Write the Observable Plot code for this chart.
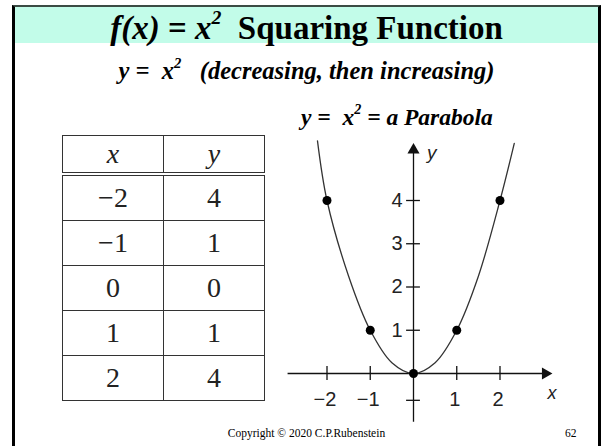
<!DOCTYPE html>
<html>
<head>
<meta charset="utf-8">
<script src="https://cdn.jsdelivr.net/npm/d3@7"></script>
<script src="https://cdn.jsdelivr.net/npm/@observablehq/plot@0.6"></script>
<style>
  html, body { margin: 0; padding: 0; background: #fff; }
  body { width: 602px; height: 446px; overflow: hidden; position: relative; }
  #frame { position: absolute; left: 12px; top: 5px; width: 583px; height: 460px;
           border-left: 3px solid #000; border-right: 3px solid #000; border-top: 2px solid #3b4b44; }
  #header { position: absolute; left: 0; top: 0; width: 583px; height: 36px; background: #c2fce9; }
  .serif { font-family: "Liberation Serif", "Times New Roman", serif; color: #000; }
  #title { position: absolute; left: 15px; width: 583px; top: 8px; text-align: center;
           font-size: 33px; font-weight: bold; white-space: pre; line-height: 40px; }
  #subtitle { position: absolute; left: 15px; width: 583px; top: 56px; text-align: center;
           font-size: 24.5px; font-weight: bold; font-style: italic; white-space: pre; line-height: 30px; }
  #plabel { position: absolute; left: 301px; top: 105px; font-size: 23.5px; font-weight: bold;
            font-style: italic; white-space: pre; line-height: 24px; }
  sup { font-size: 60%; vertical-align: 0; position: relative; top: -0.75em; }
  #tbl { position: absolute; left: 62px; top: 135px; border-collapse: collapse;
         font-family: "Liberation Serif", serif; font-size: 28px; color: #222; }
  #tbl td, #tbl th { border: 1.2px solid #333; width: 100px; text-align: center; padding: 0; font-weight: normal; line-height: 28px; }
  #tbl th { height: 36px; font-style: italic; border-bottom: 4px double #333; }
  #tbl td { height: 44px; }
  #chart { position: absolute; left: 270px; top: 130px; }
  #copy { position: absolute; left: 15px; width: 583px; top: 427px; text-align: center; font-size: 11.5px; }
  #page { position: absolute; left: 565px; top: 427px; font-size: 11.5px; }
</style>
</head>
<body>
<div id="frame"><div id="header"></div></div>
<div id="title" class="serif"><i>f(x) = x<sup>2</sup></i>  Squaring Function</div>
<div id="subtitle" class="serif">y =  x<sup>2</sup>   (decreasing, then increasing)</div>
<div id="plabel" class="serif">y =  x<sup>2</sup> = a Parabola</div>
<table id="tbl"></table>
<div id="chart"></div>
<div id="copy" class="serif">Copyright © 2020 C.P.Rubenstein</div>
<div id="page" class="serif">62</div>
<script>
// Table / plotted points
const xValues = [-2, -1, 0, 1, 2];
const yValues = [4, 1, 0, 1, 4];
const xLabels = ["\u22122", "\u22121", "0", "1", "2"];
const yLabels = ["4", "1", "0", "1", "4"];
const headers = ["x", "y"];

// Parabola curve
const curveX = [-2.22, -2, -1.5, -1, -0.5, 0, 0.5, 1, 1.5, 2, 2.33];
const curveY = [5.38, 4, 2.25, 1, 0.25, 0, 0.25, 1, 2.25, 4, 5.32];

// Axis ticks
const xTickValues = [-2, -1, 1, 2];
const xTickLabels = ["\u22122", "\u22121", "1", "2"];
const yTickValues = [1, 2, 3, 4];
const yTickLabels = ["1", "2", "3", "4"];
const yLowerTick = [-0.62];

// Build table
const tbl = document.getElementById("tbl");
const hr = document.createElement("tr");
headers.forEach(h => { const th = document.createElement("th"); th.textContent = h; hr.appendChild(th); });
tbl.appendChild(hr);
xValues.forEach((_, i) => {
  const tr = document.createElement("tr");
  [xLabels[i], yLabels[i]].forEach(t => { const td = document.createElement("td"); td.textContent = t; tr.appendChild(td); });
  tbl.appendChild(tr);
});

const curve = curveX.map((x, i) => ({x, y: curveY[i]}));
const pts = xValues.map((x, i) => ({x, y: yValues[i]}));
const ink = "#111";
const sans = "Liberation Sans, Arial, sans-serif";

const chart = Plot.plot({
  width: 300, height: 300, margin: 0,
  style: {background: "transparent", overflow: "visible", fontFamily: sans, fontSize: "20px"},
  x: {domain: [-2, 2], range: [56.5, 229.5], axis: null},
  y: {domain: [0, 4], range: [243, 70], axis: null},
  marks: [
    Plot.ruleY([0], {y: d => d, x1: -2.9, x2: 3.0, stroke: ink, strokeWidth: 1.3}),
    Plot.ruleX([0], {x: d => d, y1: -1.13, y2: 5.15, stroke: ink, strokeWidth: 1.3}),
    Plot.dot([0], {x: 3.05, y: 0, symbol: "triangle", rotate: 90, r: 4.5, fill: ink, stroke: "none"}),
    Plot.dot([0], {x: 0, y: 5.17, symbol: "triangle", r: 4.5, fill: ink, stroke: "none"}),
    Plot.ruleX(xTickValues, {x: d => d, y1: -0.16, y2: 0.16, stroke: ink, strokeWidth: 1.3}),
    Plot.ruleY(yTickValues.concat(yLowerTick), {y: d => d, x1: -0.16, x2: 0.16, stroke: ink, strokeWidth: 1.3}),
    Plot.line(curve, {x: "x", y: "y", curve: "catmull-rom", stroke: "#333", strokeWidth: 1.3}),
    Plot.dot(pts, {x: "x", y: "y", r: 4.5, fill: "#000", stroke: "none"}),
    Plot.text(xTickValues, {x: d => d, y: -0.6, text: (d, i) => xTickLabels[i], dx: -2, fontSize: 20, fill: "#222", fontFamily: sans}),
    Plot.text(yTickValues, {x: -0.25, y: d => d, text: (d, i) => yTickLabels[i], textAnchor: "end", fontSize: 20, fill: "#222", fontFamily: sans}),
    Plot.text(["y"], {x: 0.42, y: 5.1, text: d => d, fontSize: 19, fontStyle: "italic", fill: "#222", fontFamily: sans}),
    Plot.text(["x"], {x: 3.2, y: -0.45, text: d => d, fontSize: 18, fontStyle: "italic", fill: "#222", fontFamily: sans})
  ]
});
document.getElementById("chart").appendChild(chart);
</script>
</body>
</html>
